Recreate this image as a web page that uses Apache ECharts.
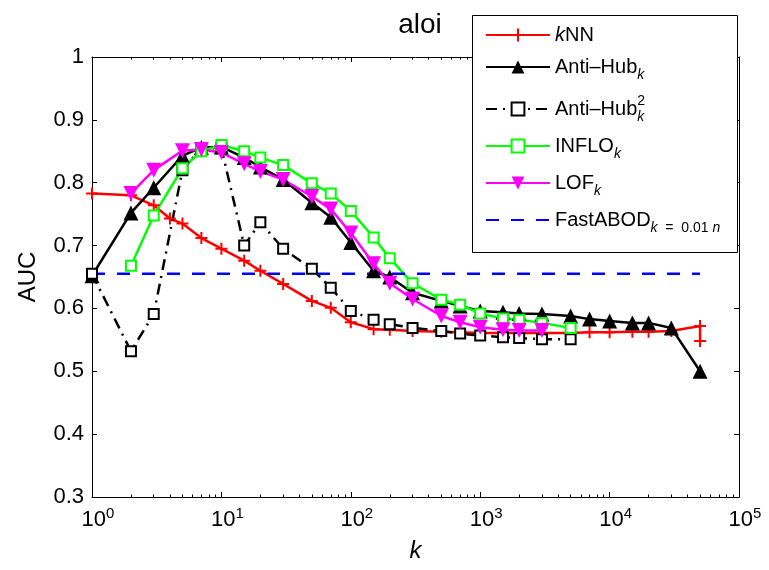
<!DOCTYPE html>
<html>
<head>
<meta charset="utf-8">
<script src="https://cdn.jsdelivr.net/npm/echarts@6/dist/echarts.min.js"></script>
<style>
  html, body { margin: 0; padding: 0; background: #fff; }
  #chart { width: 769px; height: 570px; }
</style>
</head>
<body>
<div id="chart"></div>
<script>
// AUC of outlier scores on the aloi data set as a function of the neighbourhood size k
const kNN_k    = [1, 2, 3, 4, 5, 7, 10, 15, 20, 30, 50, 70, 100, 150, 200, 300, 500, 700, 1000, 1500, 2000, 3000, 5000, 7000, 10000, 15000, 20000, 30000, 50000, 50000];
const kNN_auc  = [0.783, 0.780, 0.764, 0.743, 0.735, 0.712, 0.695, 0.676, 0.660, 0.639, 0.612, 0.601, 0.578, 0.567, 0.566, 0.564, 0.563, 0.562, 0.561, 0.561, 0.561, 0.561, 0.561, 0.562, 0.562, 0.563, 0.563, 0.564, 0.572, 0.548];

const antiHub_k   = [1, 2, 3, 5, 7, 10, 15, 20, 30, 50, 70, 100, 150, 200, 300, 500, 700, 1000, 1500, 2000, 3000, 5000, 7000, 10000, 15000, 20000, 30000, 50000];
const antiHub_auc = [0.652, 0.752, 0.792, 0.843, 0.856, 0.857, 0.840, 0.825, 0.805, 0.768, 0.745, 0.705, 0.660, 0.650, 0.625, 0.612, 0.604, 0.596, 0.594, 0.592, 0.591, 0.588, 0.583, 0.580, 0.577, 0.577, 0.569, 0.500];

const antiHub2_k   = [1, 2, 3, 5, 7, 10, 15, 20, 30, 50, 70, 100, 150, 200, 300, 500, 700, 1000, 1500, 2000, 3000, 5000];
const antiHub2_auc = [0.655, 0.532, 0.591, 0.820, 0.855, 0.855, 0.700, 0.737, 0.695, 0.663, 0.633, 0.596, 0.582, 0.575, 0.569, 0.564, 0.560, 0.557, 0.554, 0.553, 0.551, 0.551];

const inflo_k   = [2, 3, 5, 7, 10, 15, 20, 30, 50, 70, 100, 150, 200, 300, 500, 700, 1000, 1500, 2000, 3000, 5000];
const inflo_auc = [0.668, 0.748, 0.823, 0.850, 0.860, 0.850, 0.840, 0.828, 0.799, 0.783, 0.755, 0.713, 0.680, 0.640, 0.614, 0.606, 0.592, 0.584, 0.582, 0.577, 0.569];

const lof_k   = [2, 3, 5, 7, 10, 15, 20, 30, 50, 70, 100, 150, 200, 300, 500, 700, 1000, 1500, 2000, 3000];
const lof_auc = [0.783, 0.820, 0.851, 0.853, 0.848, 0.830, 0.818, 0.805, 0.778, 0.758, 0.720, 0.671, 0.640, 0.615, 0.588, 0.578, 0.570, 0.566, 0.565, 0.565];

const fastABOD_k   = [1, 50000];
const fastABOD_auc = [0.655, 0.655];

// logarithmic minor ticks: 2..9 within each decade
const minorTicksX = [];
for (let d = 0; d < 5; d++) {
  for (let m = 2; m <= 9; m++) minorTicksX.push(m * Math.pow(10, d));
}

const FONT = '"Liberation Sans", Arial, Helvetica, sans-serif';
const pairs = (ks, vs) => ks.map((k, i) => [k, vs[i]]);

const plusPath = 'path://M-1,-6 L1,-6 L1,-1 L6,-1 L6,1 L1,1 L1,6 L-1,6 L-1,1 L-6,1 L-6,-1 L-1,-1 Z';

const legendRich = {
  n:   { fontSize: 20, fontFamily: FONT, color: '#000', lineHeight: 30 },
  i:   { fontSize: 20, fontFamily: FONT, color: '#000', fontStyle: 'italic', lineHeight: 30 },
  sub: { fontSize: 14, fontFamily: FONT, color: '#000', fontStyle: 'italic', lineHeight: 13, verticalAlign: 'bottom' },
  subn:{ fontSize: 14, fontFamily: FONT, color: '#000', lineHeight: 13, verticalAlign: 'bottom' },
  sup0:{ fontSize: 14, fontFamily: FONT, color: '#000', lineHeight: 13, verticalAlign: 'top', width: 0.01 }
};
const legendText = {
  'kNN':       '{i|k}{n|NN}',
  'Anti-Hub':  '{n|Anti–Hub}{sub|k}',
  'Anti-Hub2': '{n|Anti–Hub}{sup0|2}{sub|k}',
  'INFLO':     '{n|INFLO}{sub|k}',
  'LOF':       '{n|LOF}{sub|k}',
  'FastABOD':  '{n|FastABOD}{sub|k}{subn|  =  0.01 }{sub|n}'
};

const chart = echarts.init(document.getElementById('chart'), null, { renderer: 'canvas' });

const xAxisBase = {
  type: 'log', logBase: 10, min: 1, max: 100000, splitNumber: 5,
  axisLine: { show: true, onZero: false, lineStyle: { color: '#000', width: 1 } },
  axisTick: { show: true, inside: true, length: 5, lineStyle: { color: '#000' } },
  axisLabel: { show: false },
  splitLine: { show: false }
};
const xMinorAxis = pos => Object.assign({}, xAxisBase, {
  position: pos,
  axisLine: { show: false },
  axisTick: { show: true, inside: true, length: 2.5, customValues: minorTicksX, lineStyle: { color: '#000' } }
});
const yAxisBase = {
  type: 'value', min: 0.3, max: 1, interval: 0.1,
  axisLine: { show: true, lineStyle: { color: '#000', width: 1 } },
  axisTick: { show: true, inside: true, length: 5, lineStyle: { color: '#000' } },
  splitLine: { show: false }
};

const option = {
  backgroundColor: '#fff',
  animation: false,
  title: {
    text: 'aloi', left: 415, top: 6, textAlign: 'center',
    textStyle: { fontSize: 28, fontWeight: 'normal', fontFamily: FONT, color: '#000' }
  },
  grid: { left: 92, right: 30, top: 57, bottom: 73 },
  xAxis: [
    Object.assign({}, xAxisBase, {
      position: 'bottom',
      name: 'k', nameLocation: 'middle', nameGap: 42,
      nameTextStyle: { fontSize: 24, fontStyle: 'italic', fontFamily: FONT, color: '#000' },
      axisLabel: {
        show: true, margin: 9, color: '#000', padding: [0, 0, 0, 12],
        formatter: v => '{b|10}{s|' + Math.round(Math.log10(v)) + '}',
        rich: {
          b: { fontSize: 22, fontFamily: FONT, color: '#000', lineHeight: 28 },
          s: { fontSize: 15, fontFamily: FONT, color: '#000', lineHeight: 15, verticalAlign: 'top' }
        }
      }
    }),
    Object.assign({}, xAxisBase, { position: 'top' }),
    xMinorAxis('bottom'),
    xMinorAxis('top')
  ],
  yAxis: [
    Object.assign({}, yAxisBase, {
      position: 'left',
      name: 'AUC', nameLocation: 'middle', nameGap: 52, nameRotate: 90,
      nameTextStyle: { fontSize: 24, fontFamily: FONT, color: '#000' },
      axisLabel: {
        margin: 8, fontSize: 22, fontFamily: FONT, color: '#000',
        formatter: v => (Math.abs(v - 1) < 1e-9 ? '1' : v.toFixed(1))
      }
    }),
    Object.assign({}, yAxisBase, { position: 'right', axisLabel: { show: false } })
  ],
  legend: {
    orient: 'vertical', left: 472, top: 15, z: 101,
    padding: [10, 6, 10, 13], itemGap: 12, itemWidth: 64, itemHeight: 16,
    data: ['kNN', 'Anti-Hub', 'Anti-Hub2', 'INFLO', 'LOF',
           { name: 'FastABOD', itemStyle: { opacity: 0 } }],
    formatter: name => legendText[name],
    textStyle: { rich: legendRich }
  },
  graphic: [{
    type: 'rect', z: 100, left: 472, top: 15,
    shape: { width: 265, height: 237 },
    style: { fill: '#fff', stroke: '#000', lineWidth: 1 }
  }],
  series: [
    {
      name: 'kNN', type: 'line', data: pairs(kNN_k, kNN_auc),
      symbol: plusPath, symbolSize: 12, showAllSymbol: true,
      lineStyle: { color: '#ff0000', width: 2.5 },
      itemStyle: { color: '#ff0000' }
    },
    {
      name: 'Anti-Hub', type: 'line', data: pairs(antiHub_k, antiHub_auc),
      symbol: 'triangle', symbolSize: 15, showAllSymbol: true,
      lineStyle: { color: '#000', width: 2.5 },
      itemStyle: { color: '#000' }
    },
    {
      name: 'Anti-Hub2', type: 'line', data: pairs(antiHub2_k, antiHub2_auc),
      symbol: 'emptyRect', symbolSize: 10, showAllSymbol: true,
      lineStyle: { color: '#000', width: 2.5, type: [11, 6, 2, 6] },
      itemStyle: { color: '#000', borderWidth: 2.5 }
    },
    {
      name: 'INFLO', type: 'line', data: pairs(inflo_k, inflo_auc),
      symbol: 'emptyRect', symbolSize: 10, showAllSymbol: true,
      lineStyle: { color: '#00ff00', width: 2.5 },
      itemStyle: { color: '#00ff00', borderWidth: 2.5 }
    },
    {
      name: 'LOF', type: 'line', data: pairs(lof_k, lof_auc),
      symbol: 'triangle', symbolRotate: 180, symbolSize: 15, showAllSymbol: true,
      lineStyle: { color: '#ff00ff', width: 2.5 },
      itemStyle: { color: '#ff00ff' }
    },
    {
      name: 'FastABOD', type: 'line', data: pairs(fastABOD_k, fastABOD_auc),
      symbol: 'none',
      lineStyle: { color: '#0000ff', width: 2.5, type: [13, 12] },
      itemStyle: { color: '#0000ff' }
    }
  ]
};

chart.setOption(option);
</script>
</body>
</html>
